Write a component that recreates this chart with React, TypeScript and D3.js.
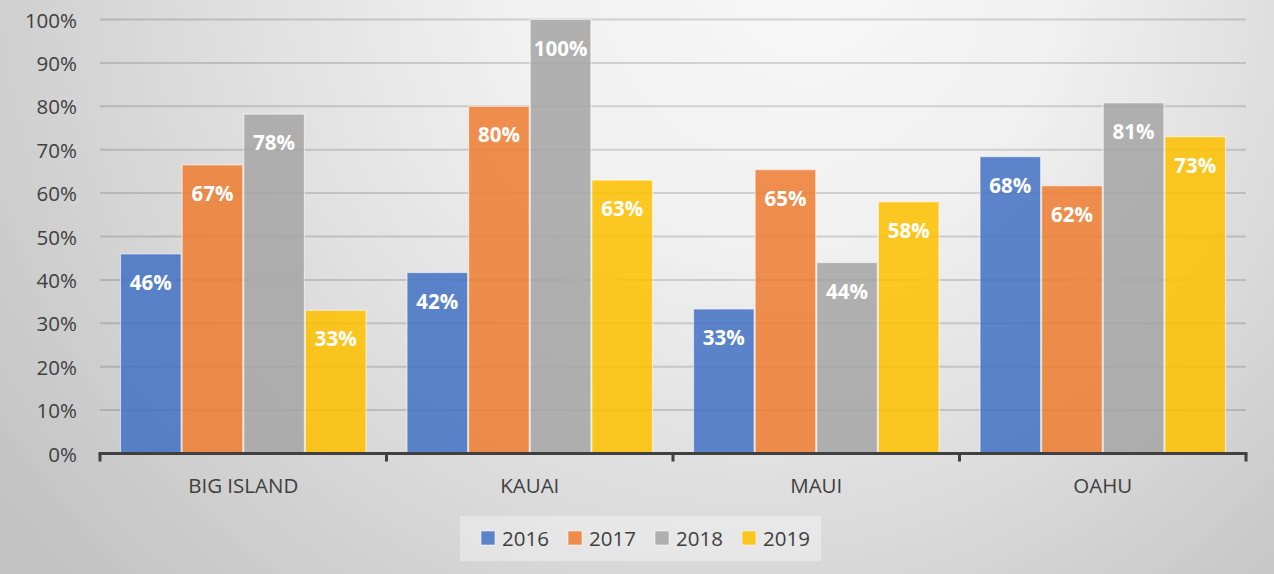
import React from "react";
import * as d3 from "d3";

const categories = ["BIG ISLAND", "KAUAI", "MAUI", "OAHU"];
const seriesNames = ["2016", "2017", "2018", "2019"];
const values2016 = [0.46, 0.417, 0.333, 0.684];
const values2017 = [0.665, 0.8, 0.654, 0.617];
const values2018 = [0.782, 1.0, 0.44, 0.808];
const values2019 = [0.33, 0.63, 0.58, 0.73];
const seriesValues = [values2016, values2017, values2018, values2019];
const seriesColors = ["#4472C4", "#ED7D31", "#A5A5A5", "#FFC000"];
const yTicks = [0, 0.1, 0.2, 0.3, 0.4, 0.5, 0.6, 0.7, 0.8, 0.9, 1.0];

const W = 1274;
const H = 574;
const FONT = "'Open Sans', 'Liberation Sans', sans-serif";

export default function App() {
  const left = 100;
  const right = 1246;
  const top = 19.5;
  const bottom = 453.5;

  const x0 = d3.scaleBand<string>().domain(categories).range([left, right]).padding(0);
  const bw = x0.bandwidth();
  const x1 = d3
    .scaleBand<string>()
    .domain(seriesNames)
    .range([20, bw - 20])
    .padding(0);
  const y = d3.scaleLinear().domain([0, 1]).range([bottom, top]);
  const fmt = d3.format(".0%");

  const legendItems = [
    { name: "2016", x: 481 },
    { name: "2017", x: 568 },
    { name: "2018", x: 655 },
    { name: "2019", x: 742 },
  ];

  return (
    <svg
      width={W}
      height={H}
      style={{ position: "absolute", left: 0, top: 0, display: "block" }}
    >
      <defs>
        <radialGradient
          id="bg"
          gradientUnits="userSpaceOnUse"
          cx={700}
          cy={-50}
          r={900}
          fx={820}
          fy={-20}
        >
          <stop offset="0" stopColor="#F7F7F7" />
          <stop offset="0.3" stopColor="#F1F1F1" />
          <stop offset="0.7" stopColor="#D7D7D7" />
          <stop offset="0.97" stopColor="#C4C4C4" />
          <stop offset="1" stopColor="#C2C2C2" />
        </radialGradient>
      </defs>
      <rect x={0} y={0} width={W} height={H} fill="url(#bg)" />

      {/* gridlines */}
      {yTicks.slice(1).map((t) => (
        <line
          key={"g" + t}
          x1={left}
          x2={right}
          y1={y(t)}
          y2={y(t)}
          stroke="rgba(0,0,0,0.14)"
          strokeWidth={2}
        />
      ))}

      {/* y tick labels */}
      {yTicks.map((t) => (
        <text
          key={"yl" + t}
          x={77}
          y={y(t)}
          textAnchor="end"
          dominantBaseline="central"
          fontFamily={FONT}
          fontSize={20.5}
          fill="#404040"
        >
          {fmt(t)}
        </text>
      ))}

      {/* bars */}
      {categories.map((c, ci) => (
        <g key={c} transform={`translate(${x0(c)},0)`}>
          {seriesNames.map((s, si) => {
            const v = seriesValues[si][ci];
            const bx = x1(s) as number;
            return (
              <g key={s}>
                <rect
                  x={bx + 0.5}
                  y={y(v)}
                  width={x1.bandwidth() - 1}
                  height={bottom - y(v)}
                  fill={seriesColors[si]}
                  fillOpacity={0.86}
                  stroke="rgba(255,255,255,0.55)"
                  strokeWidth={1.2}
                />
                <text
                  x={bx + x1.bandwidth() / 2}
                  y={y(v) + 28}
                  textAnchor="middle"
                  dominantBaseline="central"
                  fontFamily={FONT}
                  fontWeight={700}
                  fontSize={20.5}
                  fill="#FFFFFF"
                >
                  {fmt(Math.round(v * 100) / 100)}
                </text>
              </g>
            );
          })}
        </g>
      ))}

      {/* x axis */}
      <line x1={left - 1.5} x2={right + 1.5} y1={bottom} y2={bottom} stroke="#404040" strokeWidth={3} />
      {[...categories.map((c) => x0(c) as number), right].map((xx, i) => (
        <line key={"t" + i} x1={xx} x2={xx} y1={bottom} y2={bottom + 8} stroke="#404040" strokeWidth={3} />
      ))}
      {categories.map((c) => (
        <text
          key={"xl" + c}
          x={(x0(c) as number) + bw / 2}
          y={485}
          textAnchor="middle"
          dominantBaseline="central"
          fontFamily={FONT}
          fontSize={20.5}
          fill="#404040"
        >
          {c}
        </text>
      ))}

      {/* legend */}
      <rect x={460} y={516} width={361} height={45} fill="rgba(255,255,255,0.35)" />
      {legendItems.map((it, i) => (
        <g key={it.name}>
          <rect
            x={it.x}
            y={531}
            width={14}
            height={14}
            fill={seriesColors[i]}
            fillOpacity={0.86}
            stroke="rgba(255,255,255,0.55)"
            strokeWidth={1}
          />
          <text
            x={it.x + 21}
            y={538}
            dominantBaseline="central"
            fontFamily={FONT}
            fontSize={20.5}
            fill="#404040"
          >
            {it.name}
          </text>
        </g>
      ))}
    </svg>
  );
}
